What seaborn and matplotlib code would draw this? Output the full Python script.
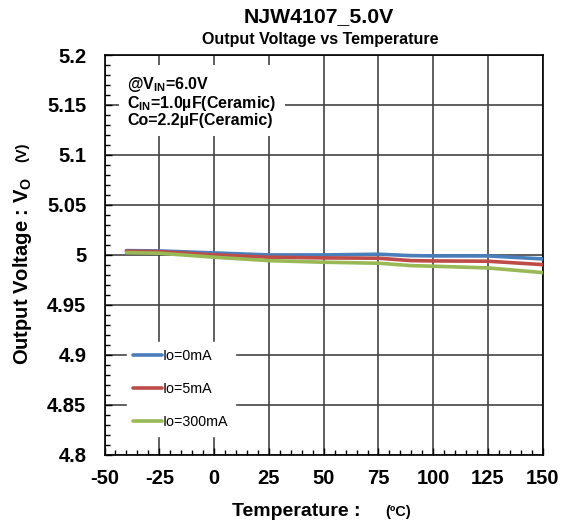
import matplotlib
matplotlib.use('Agg')
import matplotlib.pyplot as plt
from matplotlib.ticker import MultipleLocator
import pandas as pd
import seaborn as sns

# data (Vout in V vs temperature in degC)
temp = [-40, -25, 0, 25, 50, 75, 90, 100, 125, 150]
vo_0mA = [5.0043, 5.004, 5.002, 5.0, 5.0, 5.0007, 4.9993, 4.999, 4.999, 4.996]
vo_5mA = [5.0037, 5.0033, 5.0, 4.9977, 4.997, 4.9967, 4.9943, 4.994, 4.9937, 4.9903]
vo_300mA = [5.0023, 5.0017, 4.9977, 4.9943, 4.9927, 4.9917, 4.9893, 4.9887, 4.987, 4.9823]
labels = ['Io=0mA', 'Io=5mA', 'Io=300mA']
colors = ['#4a7ebb', '#be4b48', '#98b954']
yticks = [4.8, 4.85, 4.9, 4.95, 5.0, 5.05, 5.1, 5.15, 5.2]
yticklabels = ['4.8', '4.85', '4.9', '4.95', '5', '5.05', '5.1', '5.15', '5.2']

df = pd.DataFrame({'temp': temp * 3,
                   'vo': vo_0mA + vo_5mA + vo_300mA,
                   'load': [labels[0]] * len(temp) + [labels[1]] * len(temp) + [labels[2]] * len(temp)})

sns.set_style('white')
plt.rcParams['font.family'] = ['Liberation Sans', 'DejaVu Sans']
plt.rcParams['axes.unicode_minus'] = False
plt.rcParams['text.color'] = 'black'
plt.rcParams['xtick.color'] = 'black'
plt.rcParams['ytick.color'] = 'black'

fig = plt.figure(figsize=(5.69, 5.24), dpi=100)
ax = fig.add_axes([0.1837, 0.132, 0.7703, 0.763])

sns.lineplot(data=df, x='temp', y='vo', hue='load', palette=colors,
             linewidth=2.6, ax=ax, legend=False, zorder=3)

ax.set_xlim(-50, 150)
ax.set_ylim(4.8, 5.2)
ax.set_xticks(range(-50, 151, 25))
ax.set_yticks(yticks)
ax.set_yticklabels(yticklabels)
ax.xaxis.set_minor_locator(MultipleLocator(5))
ax.yaxis.set_minor_locator(MultipleLocator(0.01))
ax.grid(True, which='major', color='#444444', linewidth=1.2)
for s in ax.spines.values():
    s.set_color('black')
    s.set_linewidth(1.2)
ax.tick_params(which='both', direction='in', bottom=True, left=True, top=False, right=False)
ax.tick_params(which='major', length=5, width=1)
ax.tick_params(which='minor', length=3.5, width=1)
ax.tick_params(axis='y', which='major', labelsize=14.5, pad=13)
ax.tick_params(axis='x', which='major', labelsize=14.5, pad=10)
for t in ax.get_xticklabels() + ax.get_yticklabels():
    t.set_fontweight('bold')
ax.set_xlabel('')
ax.set_ylabel('')

# legend (white box, no border)
handles = [plt.Line2D([], [], color=c, linewidth=2.6) for c in colors]
leg = ax.legend(handles, labels, loc='lower left', bbox_to_anchor=(0.035, 0.03),
                fontsize=10.3, handlelength=2.0, handletextpad=0.05, labelspacing=1.35,
                frameon=True, fancybox=False, borderpad=0.45)
leg.get_frame().set_edgecolor('white')
leg.get_frame().set_facecolor('white')
leg.get_frame().set_alpha(1)

# conditions box
ax.text(0.052, 0.95, '@V$_\\mathregular{IN}$=6.0V\nC$_\\mathregular{IN}$=1.0\u00b5F(Ceramic)\nCo=2.2\u00b5F(Ceramic)',
        transform=ax.transAxes, fontsize=11.5, fontweight='bold', va='top', ha='left',
        linespacing=1.0,
        bbox=dict(facecolor='white', edgecolor='none', pad=6))

# titles
fig.text(0.561, 0.968, 'NJW4107_5.0V', ha='center', va='center', fontsize=15.3, fontweight='bold')
fig.text(0.562, 0.925, 'Output Voltage vs Temperature', ha='center', va='center', fontsize=11.5, fontweight='bold')

# axis labels
fig.text(0.521, 0.024, 'Temperature :', ha='center', va='center', fontsize=14, fontweight='bold')
fig.text(0.70, 0.022, '(\u00baC)', ha='center', va='center', fontsize=10.5, fontweight='bold')
fig.text(0.039, 0.483, 'Output Voltage : V$_\\mathregular{O}$', ha='center', va='center',
         fontsize=14.5, fontweight='bold', rotation=90)
fig.text(0.039, 0.71, '(V)', ha='center', va='center', fontsize=10.5, fontweight='bold', rotation=90)

plt.savefig('out.png', dpi=100)
